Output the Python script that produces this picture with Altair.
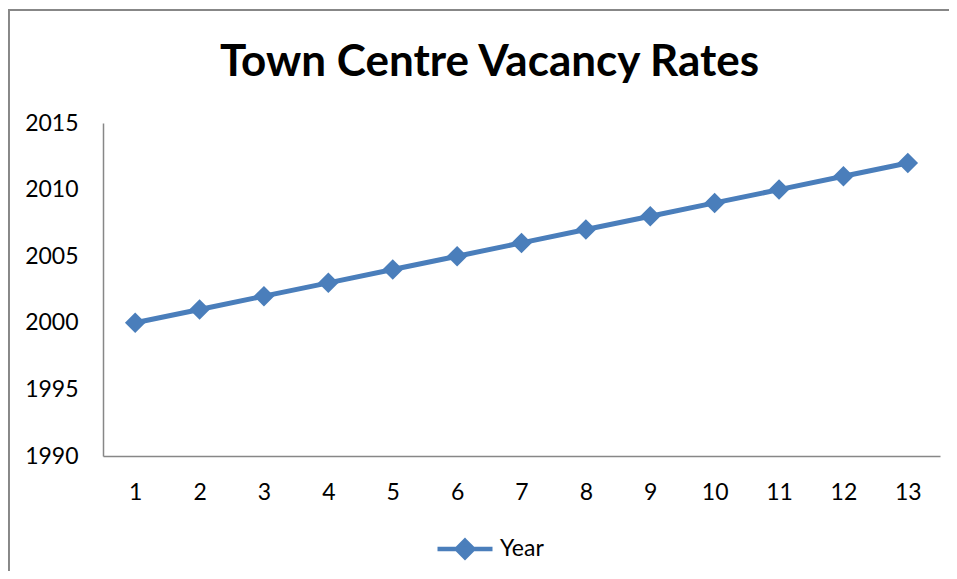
import altair as alt
import pandas as pd

categories = [1, 2, 3, 4, 5, 6, 7, 8, 9, 10, 11, 12, 13]
years = [2000, 2001, 2002, 2003, 2004, 2005, 2006, 2007, 2008, 2009, 2010, 2011, 2012]
series_name = "Year"
y_ticks = [1990, 1995, 2000, 2005, 2010, 2015]

df = pd.DataFrame({"cat": categories, "value": years, "series": [series_name] * len(categories)})

BLUE = "#4A7EBB"
FONT = "Lato"
AXIS_GREY = "#878787"

x_enc = alt.X("cat:O", scale=alt.Scale(type="point", padding=0.5),
              axis=alt.Axis(title=None, labelAngle=0, ticks=False, tickSize=0,
                            labelPadding=25, domainColor=AXIS_GREY, domainWidth=1.5))
y_enc = alt.Y("value:Q", scale=alt.Scale(domain=[1990, 2015], nice=False, zero=False),
              axis=alt.Axis(title=None, values=y_ticks, grid=False, ticks=False, tickSize=0,
                            labelPadding=25, domainColor=AXIS_GREY, domainWidth=1.5,
                            format="d"))

legend_symbol = "M-1,0L1,0M0,-0.3L0.3,0L0,0.3L-0.3,0Z"

line = alt.Chart(df).mark_line(strokeWidth=5, strokeCap="round").encode(
    x=x_enc, y=y_enc,
    color=alt.Color("series:N", scale=alt.Scale(range=[BLUE]),
                    legend=alt.Legend(title=None, orient="none", legendX=332, legendY=396,
                                      symbolType=legend_symbol, symbolSize=3025,
                                      symbolStrokeWidth=4.5, symbolFillColor=BLUE,
                                      symbolStrokeColor=BLUE, labelOffset=5,
                                      labelFont=FONT, labelFontSize=23, labelColor="black",
                                      padding=0))
)
points = alt.Chart(df).mark_point(shape="diamond", filled=True, size=420, opacity=1).encode(
    x=x_enc, y=y_enc, color=alt.value(BLUE)
)

# outer chart frame (top and left edges)
frame_top = alt.Chart(df).mark_rule(color=AXIS_GREY, strokeWidth=1.5).encode(
    x=alt.value(-95), x2=alt.value(846), y=alt.value(-113)
)
frame_left = alt.Chart(df).mark_rule(color=AXIS_GREY, strokeWidth=1.5).encode(
    x=alt.value(-94.5), y=alt.value(-113), y2=alt.value(448)
)

chart = alt.layer(frame_top, frame_left, line, points).properties(
    width=837, height=333,
    title=alt.TitleParams("Town Centre Vacancy Rates", font=FONT, fontSize=44, fontWeight="bold",
                          color="black", anchor="middle", frame="group", dx=-32,
                          baseline="alphabetic", offset=-111),
    padding={"left": 95, "top": 115, "right": 9, "bottom": 115},
    autosize=alt.AutoSizeParams(type="none"),
).configure_view(stroke=None).configure_axis(
    labelFont=FONT, labelFontSize=23, labelColor="black"
)

chart.save("out.html", embed_options={"renderer": "svg", "actions": False})
